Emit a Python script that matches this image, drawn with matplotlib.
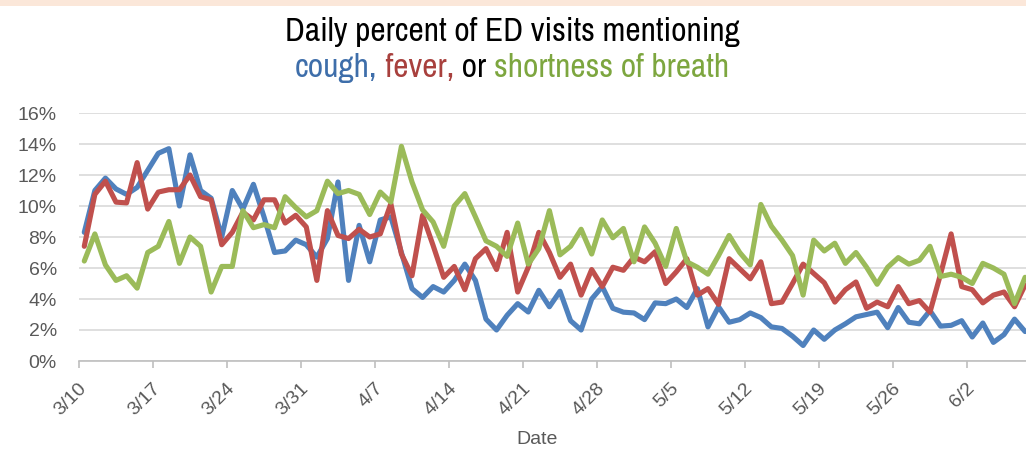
import numpy as np
import pandas as pd
import matplotlib
matplotlib.use("Agg")
import matplotlib.pyplot as plt
from matplotlib.ticker import PercentFormatter, FixedLocator
from matplotlib.patches import Rectangle

plt.rcParams['font.family'] = ['Liberation Sans', 'DejaVu Sans']
title_font = ['Archivo Narrow', 'DejaVu Sans']

########## Daily series (percent of ED visits), 3/10 .. 6/7 ##########
dates = pd.date_range('2020-03-10', periods=90, freq='D')

cough = [8.3, 11.0, 11.8, 11.1, 10.75, 11.2, 12.3, 13.4, 13.7, 10.0,
         13.3, 11.0, 10.5, 8.0, 11.0, 9.8, 11.4, 9.3, 7.0, 7.1,
         7.8, 7.5, 6.7, 7.9, 11.55, 5.2, 8.75, 6.4, 9.1, 9.3,
         7.0, 4.67, 4.1, 4.8, 4.45, 5.2, 6.25, 5.2, 2.7, 2.0,
         2.95, 3.7, 3.16, 4.56, 3.5, 4.5, 2.6, 2.0, 4.0, 4.8,
         3.4, 3.15, 3.1, 2.67, 3.75, 3.7, 4.0, 3.45, 4.67, 2.2,
         3.5, 2.5, 2.67, 3.1, 2.8, 2.2, 2.1, 1.6, 1.0, 2.0,
         1.4, 2.0, 2.4, 2.85, 3.0, 3.15, 2.15, 3.45, 2.5, 2.4,
         3.25, 2.25, 2.3, 2.6, 1.55, 2.45, 1.2, 1.7, 2.7, 1.9]

fever = [7.4, 10.75, 11.6, 10.25, 10.2, 12.8, 9.8, 10.9, 11.05, 11.05,
         12.0, 10.6, 10.4, 7.5, 8.3, 9.6, 9.1, 10.4, 10.4, 8.9,
         9.4, 8.65, 5.2, 9.7, 8.1, 7.9, 8.5, 8.0, 8.2, 10.15,
         6.9, 5.5, 9.4, 7.45, 5.4, 6.1, 4.6, 6.6, 7.25, 5.9,
         8.3, 4.45, 6.05, 8.3, 7.0, 5.4, 6.25, 4.25, 5.9, 4.8,
         6.05, 5.85, 6.7, 6.4, 7.05, 5.0, 5.75, 6.6, 4.25, 4.67,
         3.65, 6.6, 5.95, 5.3, 6.4, 3.7, 3.8, 5.0, 6.25, 5.65,
         5.05, 3.8, 4.6, 5.1, 3.4, 3.8, 3.5, 4.8, 3.7, 3.9,
         3.15, 5.6, 8.2, 4.8, 4.6, 3.75, 4.25, 4.45, 3.5, 4.9]

breath = [6.45, 8.2, 6.2, 5.2, 5.5, 4.7, 7.0, 7.4, 9.0, 6.3,
          8.0, 7.4, 4.45, 6.1, 6.1, 9.7, 8.6, 8.8, 8.6, 10.6,
          9.9, 9.3, 9.7, 11.6, 10.8, 11.0, 10.75, 9.45, 10.9, 10.25,
          13.85, 11.55, 9.75, 8.97, 7.4, 10.0, 10.8, 9.3, 7.75, 7.4,
          6.75, 8.9, 6.25, 7.25, 9.7, 6.85, 7.4, 8.5, 6.9, 9.1,
          7.95, 8.55, 6.4, 8.65, 7.6, 6.1, 8.55, 6.4, 6.05, 5.6,
          6.8, 8.1, 7.0, 6.2, 10.1, 8.7, 7.8, 6.8, 4.25, 7.8,
          7.1, 7.6, 6.3, 7.0, 6.05, 4.95, 6.05, 6.67, 6.25, 6.5,
          7.4, 5.45, 5.6, 5.4, 5.0, 6.3, 6.0, 5.6, 3.7, 5.4]

line_colors = {'cough': '#4F81BD', 'fever': '#C0504D', 'breath': '#9BBB59'}
text_grey = '#595959'

########## Figure ##########
W, H = 1026, 449
fig = plt.figure(figsize=(W / 100, H / 100), dpi=100)
fig.patches.append(Rectangle((0, 1 - 6 / H), 1, 6 / H, transform=fig.transFigure,
                             facecolor='#FBE7D9', edgecolor='none'))

ax = fig.add_axes([79 / W, 1 - 361 / H, (W - 79) / W, (361 - 113) / H])
x = np.arange(len(dates))
for series, key in [(cough, 'cough'), (fever, 'fever'), (breath, 'breath')]:
    ax.plot(x, series, color=line_colors[key], lw=3.7, solid_joinstyle='round',
            solid_capstyle='round', clip_on=False, zorder=3)

ax.set_xlim(-0.5, -0.5 + (W - 79) / 10.571)
ax.set_ylim(0, 16)
ax.set_yticks(np.arange(0, 17, 2))
ax.yaxis.set_major_formatter(PercentFormatter(xmax=100, decimals=0))
ax.grid(axis='y', color='#D9D9D9', lw=1.2)
ax.set_axisbelow(True)
for side in ['top', 'right', 'left']:
    ax.spines[side].set_visible(False)
ax.spines['bottom'].set_color('#BFBFBF')
ax.spines['bottom'].set_linewidth(1.2)
ax.tick_params(axis='y', length=0, pad=16, labelsize=14, labelcolor=text_grey)

# tick marks on week boundaries, labels on the week's first day
week_idx = np.arange(0, len(dates), 7)
ax.xaxis.set_major_locator(FixedLocator(week_idx - 0.5))
ax.xaxis.set_minor_locator(FixedLocator(week_idx))
ax.xaxis.set_major_formatter(plt.NullFormatter())
ax.set_xticklabels([f'{d.month}/{d.day}' for d in dates[week_idx]], minor=True)
ax.tick_params(axis='x', which='major', length=5, color='#BFBFBF', width=1.2)
ax.tick_params(axis='x', which='minor', length=0, pad=18, labelsize=14,
               labelcolor=text_grey)
for lbl in ax.get_xticklabels(minor=True):
    lbl.set_rotation(45)
    lbl.set_rotation_mode('anchor')
    lbl.set_ha('right')
    lbl.set_va('center')

fig.text(537 / W, 1 - 440 / H, 'Date', ha='center', va='center',
         fontsize=14, color=text_grey)

########## Two-line title, second line coloured per series ##########
renderer = fig.canvas.get_renderer()
title_size = 20
t = fig.text(0, 0, 'Daily percent of ED visits mentioning', fontsize=title_size,
             family=title_font)
title_size *= 455 / t.get_window_extent(renderer).width
t.remove()

fig.text(512 / W, 1 - 32 / H, 'Daily percent of ED visits mentioning',
         ha='center', va='center', fontsize=title_size, color='black',
         family=title_font)

parts = [('cough,', '#3E6EAA'), (' fever,', '#A8403D'), (' or ', 'black'),
         ('shortness of breath', '#7DA63F')]
widths = []
for s, c in parts:
    t = fig.text(0, 0, s, fontsize=title_size, family=title_font)
    widths.append(t.get_window_extent(renderer).width)
    t.remove()
xpos = 512 - sum(widths) / 2
for (s, c), w in zip(parts, widths):
    fig.text(xpos / W, 1 - 68 / H, s, ha='left', va='center',
             fontsize=title_size, color=c, family=title_font)
    xpos += w

fig.savefig('out.png', dpi=100)
